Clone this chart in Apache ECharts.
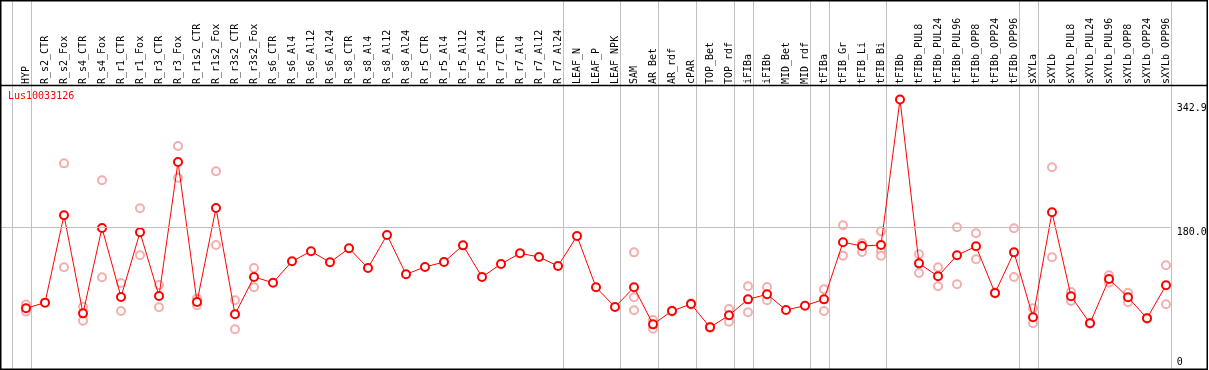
<!DOCTYPE html>
<html>
<head>
<meta charset="utf-8">
<script src="https://cdn.jsdelivr.net/npm/echarts@6/dist/echarts.min.js"></script>
<style>
html,body{margin:0;padding:0;background:#fff;}
#chart{width:1209px;height:370px;}
</style>
</head>
<body>
<div id="chart"></div>
<script>
const geneName = 'Lus10033126';
const categories = ['HYP','R_s2_CTR','R_s2_Fox','R_s4_CTR','R_s4_Fox','R_r1_CTR','R_r1_Fox','R_r3_CTR','R_r3_Fox','R_r1s2_CTR','R_r1s2_Fox','R_r3s2_CTR','R_r3s2_Fox','R_s6_CTR','R_s6_Al4','R_s6_Al12','R_s6_Al24','R_s8_CTR','R_s8_Al4','R_s8_Al12','R_s8_Al24','R_r5_CTR','R_r5_Al4','R_r5_Al12','R_r5_Al24','R_r7_CTR','R_r7_Al4','R_r7_Al12','R_r7_Al24','LEAF_N','LEAF_P','LEAF_NPK','SAM','AR_Bet','AR_rdf','cPAR','TOP_Bet','TOP_rdf','iFIBa','iFIBb','MID_Bet','MID_rdf','tFIBa','tFIB_Gr','tFIB_Li','tFIB_Bi','tFIBb','tFIBb_PUL8','tFIBb_PUL24','tFIBb_PUL96','tFIBb_OPP8','tFIBb_OPP24','tFIBb_OPP96','sXYLa','sXYLb','sXYLb_PUL8','sXYLb_PUL24','sXYLb_PUL96','sXYLb_OPP8','sXYLb_OPP24','sXYLb_OPP96'];
const meanValues = [77.2,84.4,195.5,70.8,179.4,91.6,173.9,92.9,263.3,85.2,204.8,69.6,117.0,109.8,137.0,149.7,135.7,153.5,128.5,170.5,120.5,129.8,136.1,157.3,117.0,133.6,147.2,142.5,131.0,169.2,103.9,78.9,103.9,56.8,73.8,82.7,53.0,68.3,88.6,95.0,75.1,80.5,88.6,161.2,156.5,157.7,342.9,134.4,117.9,144.6,156.1,96.7,148.4,65.8,199.3,92.5,58.1,114.5,91.2,64.5,106.5];
const repA = [82,null,261.6,79.3,240,109.4,204.4,106.9,283.7,89.5,251.5,87.4,128.5,null,null,null,null,null,null,null,null,null,null,null,null,null,null,null,null,null,null,null,148.4,62.3,74.5,83.5,53.8,76.3,105.2,104.3,null,null,101.4,182.8,159.9,175.2,null,145.9,129.4,180.3,172.6,97.5,179,77.2,256.6,98.0,58.8,119.2,97.1,65,131.9];
const repB = [73,null,129.4,61.5,116.6,73.8,144.6,78.5,243.4,81.0,157.7,50.5,103.9,null,null,null,null,null,null,null,null,null,null,null,null,null,null,null,null,null,null,null,91.2,51.3,73.2,82,52.3,60.2,72.1,87.4,null,null,73.8,144.2,148.8,150.5,null,122.1,105.2,107.7,139.5,96,117,58.1,142.1,86.5,57.5,109.8,84.8,64,82.3];
const repC = [null,null,null,null,null,null,null,null,null,null,null,null,null,null,null,null,null,null,null,null,null,null,null,null,null,null,null,null,null,null,null,null,74.7,null,null,null,null,null,null,null,null,null,null,null,null,144.2,null,null,null,null,null,null,null,null,null,null,null,null,null,null,null];
const yTickValues = [0, 180, 342.9];
const yTickLabels = ['0', '180.0', '342.9'];
const groupEndsAfter = [-1, 0, 28, 31, 33, 35, 37, 38, 41, 42, 45, 52, 53, 60];

const FONT = 'DejaVu Sans Mono';
const chart = echarts.init(document.getElementById('chart'), null, {renderer: 'canvas'});

const meanData = meanValues.map((v, i) => [i, v]);
const repData = [];
[repA, repB, repC].forEach(arr => arr.forEach((v, i) => { if (v != null) repData.push([i, v]); }));

const labelOffsets = [[0, -6.5], [0, 5], [0, 8.5]];
const markData = yTickValues.map((v, k) => ({
  yAxis: v,
  lineStyle: {color: v === 180 ? '#c0c0c0' : 'rgba(0,0,0,0)', width: 1, type: 'solid'},
  label: {formatter: yTickLabels[k], offset: labelOffsets[k], color: '#000'}
}));

chart.setOption({
  animation: false,
  title: {
    text: geneName, left: 8, top: 91, padding: 0,
    textStyle: {color: '#ff0000', fontSize: 10, fontFamily: FONT, fontWeight: 'normal'}
  },
  grid: {left: 1, right: 38.25, top: 86, bottom: 1, containLabel: false},
  xAxis: {
    type: 'value', position: 'top', min: -25 / 19, max: 60.25,
    axisLine: {show: false}, axisTick: {show: false}, splitLine: {show: false},
    axisLabel: {
      customValues: categories.map((_, i) => i),
      formatter: v => categories[Math.round(v)] || '',
      rotate: 90, margin: 2, fontSize: 10, fontFamily: FONT, color: '#000'
    }
  },
  yAxis: {
    type: 'value', position: 'right', min: 0, max: 360,
    axisLine: {show: false}, axisTick: {show: false}, splitLine: {show: false},
    axisLabel: {show: false}
  },
  series: [
    {
      type: 'scatter', data: repData, symbol: 'emptyCircle', symbolSize: 8,
      itemStyle: {color: '#f09a9a', borderColor: '#f09a9a', borderWidth: 1.2}, z: 2, silent: true
    },
    {
      type: 'line', data: meanData, symbol: 'emptyCircle', symbolSize: 8, showAllSymbol: true,
      lineStyle: {color: '#ff0000', width: 1},
      itemStyle: {color: '#ff0000', borderColor: '#ff0000', borderWidth: 1.5}, z: 3,
      markLine: {
        silent: true, symbol: 'none', animation: false,
        label: {position: 'end', distance: 6, fontSize: 10, fontFamily: FONT, color: '#000'},
        data: markData
      }
    }
  ]
});

const gfx = [];
groupEndsAfter.forEach(idx => {
  const x = Math.round(chart.convertToPixel({xAxisIndex: 0}, idx + 0.25)) + 0.5;
  gfx.push({type: 'line', shape: {x1: x, y1: 1, x2: x, y2: 369}, style: {stroke: '#c0c0c0', lineWidth: 1}, z: 1, silent: true});
});
gfx.push({type: 'line', shape: {x1: 0, y1: 85.5, x2: 1207, y2: 85.5}, style: {stroke: '#000', lineWidth: 1.5}, z: 5, silent: true});
gfx.push({type: 'rect', shape: {x: 0.75, y: 0.75, width: 1206.5, height: 368.5}, style: {stroke: '#000', fill: null, lineWidth: 1.5}, z: 5, silent: true});
chart.setOption({graphic: gfx});
</script>
</body>
</html>
